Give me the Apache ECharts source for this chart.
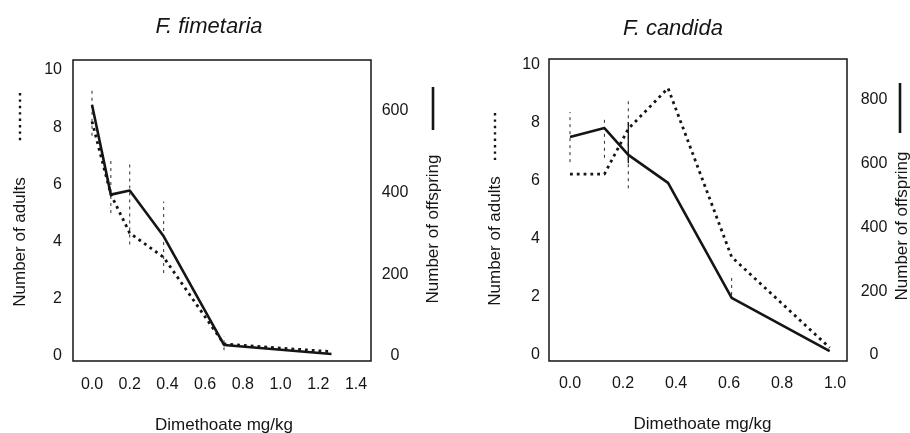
<!DOCTYPE html>
<html><head><meta charset="utf-8">
<script src="https://cdn.jsdelivr.net/npm/echarts@6/dist/echarts.min.js"></script>
<style>html,body{margin:0;padding:0;background:#fff}#c{width:910px;height:433px}</style>
</head><body><div id="c"></div>
<script>
// ---- F. fimetaria ----
const ffDose = [0, 0.1, 0.2, 0.38, 0.7, 1.27];
const ffAdults = [8.2, 5.65, 4.3, 3.45, 0.42, 0.15];
const ffOffspring = [615, 395, 405, 293, 27, 5];
const ffAdultErr = [[0, 7.7, 9.3], [0.1, 5.0, 6.85], [0.2, 3.9, 6.8], [0.38, 2.9, 5.4], [0.7, 0.2, 0.7]];
// ---- F. candida ----
const fcDose = [0, 0.13, 0.22, 0.37, 0.61, 0.98];
const fcAdults = [6.24, 6.24, 7.8, 9.2, 3.38, 0.25];
const fcOffspring = [684, 712, 628, 540, 179, 12];
const fcAdultErr = [[0, 6.65, 8.38], [0.13, 6.8, 8.17], [0.22, 5.75, 8.86], [0.61, 2.07, 2.8]];
const fcOffErr = [[0.22, 602, 731]];
// ---- axes ----
const ffXTicks = [0, 1.4, 0.2];
const fcXTicks = [0, 1.0, 0.2];
const adultsAxis = [0, 10, 2];
const ffOffAxis = [0, 700, 200];
const fcOffAxis = [0, 910, 200];
const titles = ['F. fimetaria', 'F. candida'];
const xName = 'Dimethoate mg/kg';
const yLeftName = 'Number of adults';
const yRightName = 'Number of offspring';

const FONT = '"Liberation Sans", Arial, sans-serif';
const INK = '#151515';
const chart = echarts.init(document.getElementById('c'));

function pairs(xs, ys) { return xs.map((x, i) => [x, ys[i]]); }
function errSeries(data, xi, yi, dashed) {
  return {
    type: 'custom', xAxisIndex: xi, yAxisIndex: yi, data: data, silent: true,
    renderItem: function (params, api) {
      const a = api.coord([api.value(0), api.value(1)]);
      const b = api.coord([api.value(0), api.value(2)]);
      return { type: 'line', shape: { x1: a[0], y1: a[1], x2: b[0], y2: b[1] },
        style: { stroke: INK, lineWidth: dashed ? 0.9 : 1.3, lineDash: dashed ? [3, 4] : null } };
    }
  };
}
function xAxis(gi, t) {
  return { gridIndex: gi, type: 'value', min: t[0], max: t[1], interval: t[2],
    axisLine: { show: false }, axisTick: { show: false }, splitLine: { show: false },
    axisLabel: { margin: 21, fontSize: 16, color: INK, fontFamily: FONT, formatter: v => v.toFixed(1) },
    name: xName, nameLocation: 'middle', nameGap: 61,
    nameTextStyle: { fontSize: 17, color: INK, fontFamily: FONT } };
}
function yAxis(gi, t, pos) {
  const o = { gridIndex: gi, type: 'value', position: pos, min: t[0], max: t[1], interval: t[2],
    axisLine: { show: false }, axisTick: { show: false }, splitLine: { show: false },
    axisLabel: { fontSize: 16, color: INK, fontFamily: FONT, showMaxLabel: pos === 'left' } };
  if (pos === 'right') { o.axisLabel.align = 'center'; o.axisLabel.margin = 39; }
  else { o.axisLabel.margin = 30; }
  return o;
}
const solid = { color: INK, width: 2.6 };
const dotted = { color: INK, width: 2.8, type: [2.8, 4], cap: 'butt' };
function vText(x, y, s) {
  return { type: 'text', x: x, y: y, rotation: Math.PI / 2,
    style: { text: s, font: '17px ' + FONT, fill: INK, align: 'center', verticalAlign: 'middle' } };
}
function vLine(x, y1, y2, w, dash) {
  return { type: 'line', shape: { x1: x, y1: y1, x2: x, y2: y2 },
    style: { stroke: INK, lineWidth: w, lineDash: dash || null } };
}

chart.setOption({
  animation: false,
  backgroundColor: '#fff',
  title: [
    { text: titles[0], left: 204, top: 11, textAlign: 'center',
      textStyle: { fontSize: 22, fontStyle: 'italic', fontWeight: 'normal', color: INK, fontFamily: FONT } },
    { text: titles[1], left: 668, top: 13, textAlign: 'center',
      textStyle: { fontSize: 22, fontStyle: 'italic', fontWeight: 'normal', color: INK, fontFamily: FONT } }
  ],
  grid: [
    { left: 92, right: 910 - 356, top: 70, bottom: 433 - 356, containLabel: false, outerBoundsMode: 'none' },
    { left: 570, right: 910 - 835, top: 65, bottom: 433 - 355, containLabel: false, outerBoundsMode: 'none' }
  ],
  xAxis: [xAxis(0, ffXTicks), xAxis(1, fcXTicks)],
  yAxis: [yAxis(0, adultsAxis, 'left'), yAxis(0, ffOffAxis, 'right'),
          yAxis(1, adultsAxis, 'left'), yAxis(1, fcOffAxis, 'right')],
  series: [
    { type: 'line', xAxisIndex: 0, yAxisIndex: 0, data: pairs(ffDose, ffAdults), showSymbol: false, lineStyle: dotted },
    { type: 'line', xAxisIndex: 0, yAxisIndex: 1, data: pairs(ffDose, ffOffspring), showSymbol: false, lineStyle: solid },
    errSeries(ffAdultErr, 0, 0, true),
    { type: 'line', xAxisIndex: 1, yAxisIndex: 2, data: pairs(fcDose, fcAdults), showSymbol: false, lineStyle: dotted },
    { type: 'line', xAxisIndex: 1, yAxisIndex: 3, data: pairs(fcDose, fcOffspring), showSymbol: false, lineStyle: solid },
    errSeries(fcAdultErr, 1, 2, true),
    errSeries(fcOffErr, 1, 3, false)
  ],
  graphic: [
    { type: 'rect', shape: { x: 73, y: 60, width: 298, height: 301 }, style: { fill: 'none', stroke: INK, lineWidth: 1.5 } },
    { type: 'rect', shape: { x: 549, y: 59, width: 298, height: 302 }, style: { fill: 'none', stroke: INK, lineWidth: 1.5 } },
    vText(20, 242, yLeftName), vLine(20, 93, 142, 2.4, [2.4, 4]),
    vText(433, 229, yRightName), vLine(433, 87, 130, 2.6),
    vText(495, 241, yLeftName), vLine(495, 113, 160, 2.4, [2.4, 4]),
    vText(902, 226, yRightName), vLine(900, 83, 133, 2.6)
  ]
});
</script></body></html>
